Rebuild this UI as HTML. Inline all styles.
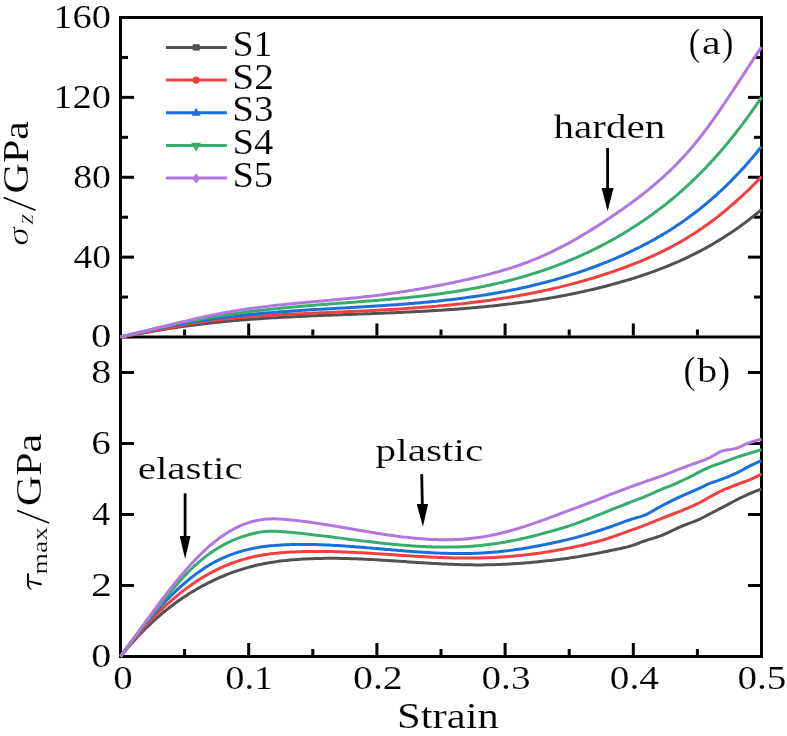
<!DOCTYPE html>
<html><head><meta charset="utf-8"><style>
html,body{margin:0;padding:0;background:#fff;width:787px;height:736px;overflow:hidden}
svg{display:block;will-change:transform}
text{font-family:"Liberation Serif", serif}
</style></head><body>
<svg width="787" height="736" viewBox="0 0 787 736">
<rect width="787" height="736" fill="#fff"/>
<g>
<rect x="119.00" y="16.00" width="644.00" height="3.00" fill="#000"/>
<rect x="119.00" y="335.50" width="644.00" height="3.00" fill="#000"/>
<rect x="119.00" y="655.00" width="644.00" height="3.00" fill="#000"/>
<rect x="119.00" y="16.00" width="3.00" height="642.00" fill="#000"/>
<rect x="760.00" y="16.00" width="3.00" height="642.00" fill="#000"/>
<rect x="122.00" y="295.56" width="6.00" height="3.00" fill="#000"/>
<rect x="754.00" y="295.56" width="6.00" height="3.00" fill="#000"/>
<rect x="122.00" y="255.62" width="12.00" height="3.00" fill="#000"/>
<rect x="748.00" y="255.62" width="12.00" height="3.00" fill="#000"/>
<rect x="122.00" y="215.69" width="6.00" height="3.00" fill="#000"/>
<rect x="754.00" y="215.69" width="6.00" height="3.00" fill="#000"/>
<rect x="122.00" y="175.75" width="12.00" height="3.00" fill="#000"/>
<rect x="748.00" y="175.75" width="12.00" height="3.00" fill="#000"/>
<rect x="122.00" y="135.81" width="6.00" height="3.00" fill="#000"/>
<rect x="754.00" y="135.81" width="6.00" height="3.00" fill="#000"/>
<rect x="122.00" y="95.88" width="12.00" height="3.00" fill="#000"/>
<rect x="748.00" y="95.88" width="12.00" height="3.00" fill="#000"/>
<rect x="122.00" y="55.94" width="6.00" height="3.00" fill="#000"/>
<rect x="754.00" y="55.94" width="6.00" height="3.00" fill="#000"/>
<rect x="122.00" y="584.00" width="12.00" height="3.00" fill="#000"/>
<rect x="748.00" y="584.00" width="12.00" height="3.00" fill="#000"/>
<rect x="122.00" y="513.00" width="12.00" height="3.00" fill="#000"/>
<rect x="748.00" y="513.00" width="12.00" height="3.00" fill="#000"/>
<rect x="122.00" y="442.00" width="12.00" height="3.00" fill="#000"/>
<rect x="748.00" y="442.00" width="12.00" height="3.00" fill="#000"/>
<rect x="122.00" y="371.00" width="12.00" height="3.00" fill="#000"/>
<rect x="748.00" y="371.00" width="12.00" height="3.00" fill="#000"/>
<rect x="183.10" y="329.50" width="3.00" height="6.00" fill="#000"/>
<rect x="183.10" y="649.00" width="3.00" height="6.00" fill="#000"/>
<rect x="247.20" y="323.50" width="3.00" height="12.00" fill="#000"/>
<rect x="247.20" y="643.00" width="3.00" height="12.00" fill="#000"/>
<rect x="311.30" y="329.50" width="3.00" height="6.00" fill="#000"/>
<rect x="311.30" y="649.00" width="3.00" height="6.00" fill="#000"/>
<rect x="375.40" y="323.50" width="3.00" height="12.00" fill="#000"/>
<rect x="375.40" y="643.00" width="3.00" height="12.00" fill="#000"/>
<rect x="439.50" y="329.50" width="3.00" height="6.00" fill="#000"/>
<rect x="439.50" y="649.00" width="3.00" height="6.00" fill="#000"/>
<rect x="503.60" y="323.50" width="3.00" height="12.00" fill="#000"/>
<rect x="503.60" y="643.00" width="3.00" height="12.00" fill="#000"/>
<rect x="567.70" y="329.50" width="3.00" height="6.00" fill="#000"/>
<rect x="567.70" y="649.00" width="3.00" height="6.00" fill="#000"/>
<rect x="631.80" y="323.50" width="3.00" height="12.00" fill="#000"/>
<rect x="631.80" y="643.00" width="3.00" height="12.00" fill="#000"/>
<rect x="695.90" y="329.50" width="3.00" height="6.00" fill="#000"/>
<rect x="695.90" y="649.00" width="3.00" height="6.00" fill="#000"/>
</g>
<g fill="none" stroke-width="3" stroke-linejoin="round" stroke-linecap="butt">
<path d="M120.50,337.00 L122.50,336.62 L124.50,336.25 L126.50,335.87 L128.50,335.50 L130.50,335.13 L132.50,334.76 L134.50,334.40 L136.50,334.03 L138.50,333.67 L140.50,333.32 L142.50,332.96 L144.50,332.61 L146.50,332.26 L148.50,331.92 L150.50,331.57 L152.50,331.23 L154.50,330.90 L156.50,330.56 L158.50,330.23 L160.50,329.91 L162.50,329.58 L164.50,329.26 L166.50,328.95 L168.50,328.63 L170.50,328.32 L172.50,328.02 L174.50,327.72 L176.50,327.42 L178.50,327.13 L180.50,326.84 L182.50,326.55 L184.50,326.27 L186.50,325.99 L188.50,325.72 L190.50,325.45 L192.50,325.18 L194.50,324.92 L196.50,324.67 L198.50,324.41 L200.50,324.17 L202.50,323.92 L204.50,323.69 L206.50,323.45 L208.50,323.23 L210.50,323.00 L212.50,322.78 L214.50,322.57 L216.50,322.35 L218.50,322.15 L220.50,321.94 L222.50,321.74 L224.50,321.55 L226.50,321.36 L228.50,321.17 L230.50,320.99 L232.50,320.80 L234.50,320.63 L236.50,320.45 L238.50,320.29 L240.50,320.12 L242.50,319.96 L244.50,319.80 L246.50,319.64 L248.50,319.49 L250.50,319.34 L252.50,319.19 L254.50,319.05 L256.50,318.90 L258.50,318.77 L260.50,318.63 L262.50,318.50 L264.50,318.37 L266.50,318.24 L268.50,318.11 L270.50,317.99 L272.50,317.87 L274.50,317.75 L276.50,317.64 L278.50,317.52 L280.50,317.41 L282.50,317.30 L284.50,317.19 L286.50,317.09 L288.50,316.99 L290.50,316.88 L292.50,316.78 L294.50,316.69 L296.50,316.59 L298.50,316.49 L300.50,316.40 L302.50,316.31 L304.50,316.22 L306.50,316.13 L308.50,316.04 L310.50,315.95 L312.50,315.87 L314.50,315.78 L316.50,315.70 L318.50,315.62 L320.50,315.53 L322.50,315.45 L324.50,315.37 L326.50,315.29 L328.50,315.21 L330.50,315.14 L332.50,315.06 L334.50,314.98 L336.50,314.91 L338.50,314.83 L340.50,314.75 L342.50,314.68 L344.50,314.60 L346.50,314.53 L348.50,314.45 L350.50,314.38 L352.50,314.30 L354.50,314.23 L356.50,314.16 L358.50,314.08 L360.50,314.01 L362.50,313.93 L364.50,313.86 L366.50,313.78 L368.50,313.70 L370.50,313.63 L372.50,313.55 L374.50,313.47 L376.50,313.39 L378.50,313.32 L380.50,313.24 L382.50,313.16 L384.50,313.07 L386.50,312.99 L388.50,312.91 L390.50,312.83 L392.50,312.74 L394.50,312.65 L396.50,312.57 L398.50,312.48 L400.50,312.39 L402.50,312.30 L404.50,312.20 L406.50,312.11 L408.50,312.02 L410.50,311.92 L412.50,311.82 L414.50,311.72 L416.50,311.62 L418.50,311.51 L420.50,311.41 L422.50,311.30 L424.50,311.19 L426.50,311.08 L428.50,310.97 L430.50,310.85 L432.50,310.73 L434.50,310.61 L436.50,310.49 L438.50,310.37 L440.50,310.24 L442.50,310.11 L444.50,309.98 L446.50,309.84 L448.50,309.71 L450.50,309.57 L452.50,309.42 L454.50,309.28 L456.50,309.13 L458.50,308.98 L460.50,308.83 L462.50,308.67 L464.50,308.51 L466.50,308.35 L468.50,308.18 L470.50,308.01 L472.50,307.84 L474.50,307.66 L476.50,307.48 L478.50,307.30 L480.50,307.11 L482.50,306.92 L484.50,306.73 L486.50,306.53 L488.50,306.33 L490.50,306.13 L492.50,305.92 L494.50,305.71 L496.50,305.49 L498.50,305.27 L500.50,305.05 L502.50,304.82 L504.50,304.59 L506.50,304.35 L508.50,304.11 L510.50,303.87 L512.50,303.62 L514.50,303.36 L516.50,303.10 L518.50,302.84 L520.50,302.57 L522.50,302.30 L524.50,302.03 L526.50,301.74 L528.50,301.46 L530.50,301.17 L532.50,300.87 L534.50,300.57 L536.50,300.26 L538.50,299.95 L540.50,299.64 L542.50,299.31 L544.50,298.99 L546.50,298.66 L548.50,298.32 L550.50,297.98 L552.50,297.63 L554.50,297.27 L556.50,296.91 L558.50,296.55 L560.50,296.18 L562.50,295.80 L564.50,295.42 L566.50,295.03 L568.50,294.64 L570.50,294.24 L572.50,293.83 L574.50,293.42 L576.50,293.00 L578.50,292.58 L580.50,292.15 L582.50,291.71 L584.50,291.27 L586.50,290.82 L588.50,290.36 L590.50,289.90 L592.50,289.43 L594.50,288.95 L596.50,288.47 L598.50,287.98 L600.50,287.49 L602.50,286.98 L604.50,286.47 L606.50,285.96 L608.50,285.43 L610.50,284.90 L612.50,284.36 L614.50,283.82 L616.50,283.27 L618.50,282.71 L620.50,282.14 L622.50,281.56 L624.50,280.98 L626.50,280.39 L628.50,279.79 L630.50,279.19 L632.50,278.57 L634.50,277.95 L636.50,277.31 L638.50,276.67 L640.50,276.02 L642.50,275.36 L644.50,274.69 L646.50,274.00 L648.50,273.31 L650.50,272.61 L652.50,271.89 L654.50,271.17 L656.50,270.43 L658.50,269.68 L660.50,268.92 L662.50,268.15 L664.50,267.36 L666.50,266.57 L668.50,265.76 L670.50,264.93 L672.50,264.09 L674.50,263.24 L676.50,262.38 L678.50,261.50 L680.50,260.61 L682.50,259.70 L684.50,258.78 L686.50,257.84 L688.50,256.89 L690.50,255.92 L692.50,254.94 L694.50,253.94 L696.50,252.93 L698.50,251.89 L700.50,250.85 L702.50,249.78 L704.50,248.70 L706.50,247.60 L708.50,246.48 L710.50,245.35 L712.50,244.19 L714.50,243.02 L716.50,241.83 L718.50,240.62 L720.50,239.40 L722.50,238.15 L724.50,236.88 L726.50,235.60 L728.50,234.29 L730.50,232.97 L732.50,231.62 L734.50,230.26 L736.50,228.87 L738.50,227.46 L740.50,226.03 L742.50,224.58 L744.50,223.10 L746.50,221.61 L748.50,220.09 L750.50,218.55 L752.50,216.99 L754.50,215.40 L756.50,213.79 L758.50,212.16 L760.50,210.51 L761.50,209.67" stroke="#515151"/>
<path d="M120.50,337.00 L122.50,336.66 L124.50,336.32 L126.50,335.97 L128.50,335.62 L130.50,335.26 L132.50,334.90 L134.50,334.53 L136.50,334.16 L138.50,333.78 L140.50,333.40 L142.50,333.02 L144.50,332.63 L146.50,332.25 L148.50,331.86 L150.50,331.46 L152.50,331.07 L154.50,330.68 L156.50,330.28 L158.50,329.89 L160.50,329.50 L162.50,329.10 L164.50,328.71 L166.50,328.32 L168.50,327.93 L170.50,327.55 L172.50,327.16 L174.50,326.78 L176.50,326.40 L178.50,326.03 L180.50,325.66 L182.50,325.29 L184.50,324.93 L186.50,324.57 L188.50,324.22 L190.50,323.87 L192.50,323.53 L194.50,323.20 L196.50,322.87 L198.50,322.56 L200.50,322.24 L202.50,321.94 L204.50,321.65 L206.50,321.36 L208.50,321.08 L210.50,320.80 L212.50,320.54 L214.50,320.28 L216.50,320.03 L218.50,319.78 L220.50,319.54 L222.50,319.31 L224.50,319.08 L226.50,318.86 L228.50,318.65 L230.50,318.44 L232.50,318.24 L234.50,318.04 L236.50,317.85 L238.50,317.66 L240.50,317.48 L242.50,317.30 L244.50,317.13 L246.50,316.97 L248.50,316.80 L250.50,316.65 L252.50,316.49 L254.50,316.34 L256.50,316.20 L258.50,316.06 L260.50,315.92 L262.50,315.79 L264.50,315.66 L266.50,315.53 L268.50,315.41 L270.50,315.29 L272.50,315.17 L274.50,315.05 L276.50,314.94 L278.50,314.83 L280.50,314.72 L282.50,314.62 L284.50,314.51 L286.50,314.41 L288.50,314.31 L290.50,314.21 L292.50,314.12 L294.50,314.02 L296.50,313.93 L298.50,313.83 L300.50,313.74 L302.50,313.65 L304.50,313.56 L306.50,313.47 L308.50,313.38 L310.50,313.29 L312.50,313.20 L314.50,313.11 L316.50,313.03 L318.50,312.94 L320.50,312.85 L322.50,312.76 L324.50,312.68 L326.50,312.59 L328.50,312.50 L330.50,312.42 L332.50,312.33 L334.50,312.24 L336.50,312.16 L338.50,312.07 L340.50,311.98 L342.50,311.89 L344.50,311.80 L346.50,311.71 L348.50,311.62 L350.50,311.53 L352.50,311.44 L354.50,311.35 L356.50,311.26 L358.50,311.16 L360.50,311.07 L362.50,310.97 L364.50,310.88 L366.50,310.78 L368.50,310.68 L370.50,310.58 L372.50,310.48 L374.50,310.38 L376.50,310.27 L378.50,310.17 L380.50,310.06 L382.50,309.95 L384.50,309.84 L386.50,309.73 L388.50,309.62 L390.50,309.50 L392.50,309.39 L394.50,309.27 L396.50,309.15 L398.50,309.02 L400.50,308.90 L402.50,308.77 L404.50,308.64 L406.50,308.51 L408.50,308.37 L410.50,308.24 L412.50,308.10 L414.50,307.96 L416.50,307.81 L418.50,307.67 L420.50,307.52 L422.50,307.36 L424.50,307.21 L426.50,307.05 L428.50,306.89 L430.50,306.73 L432.50,306.56 L434.50,306.39 L436.50,306.22 L438.50,306.04 L440.50,305.86 L442.50,305.68 L444.50,305.49 L446.50,305.30 L448.50,305.11 L450.50,304.91 L452.50,304.71 L454.50,304.51 L456.50,304.30 L458.50,304.09 L460.50,303.87 L462.50,303.65 L464.50,303.43 L466.50,303.20 L468.50,302.97 L470.50,302.74 L472.50,302.50 L474.50,302.25 L476.50,302.00 L478.50,301.75 L480.50,301.49 L482.50,301.23 L484.50,300.97 L486.50,300.70 L488.50,300.42 L490.50,300.14 L492.50,299.85 L494.50,299.56 L496.50,299.27 L498.50,298.97 L500.50,298.66 L502.50,298.35 L504.50,298.04 L506.50,297.72 L508.50,297.39 L510.50,297.06 L512.50,296.73 L514.50,296.38 L516.50,296.04 L518.50,295.68 L520.50,295.33 L522.50,294.96 L524.50,294.59 L526.50,294.22 L528.50,293.84 L530.50,293.45 L532.50,293.05 L534.50,292.66 L536.50,292.25 L538.50,291.84 L540.50,291.42 L542.50,291.00 L544.50,290.57 L546.50,290.13 L548.50,289.69 L550.50,289.24 L552.50,288.78 L554.50,288.32 L556.50,287.85 L558.50,287.37 L560.50,286.89 L562.50,286.40 L564.50,285.90 L566.50,285.40 L568.50,284.89 L570.50,284.37 L572.50,283.84 L574.50,283.31 L576.50,282.77 L578.50,282.22 L580.50,281.67 L582.50,281.11 L584.50,280.54 L586.50,279.96 L588.50,279.38 L590.50,278.79 L592.50,278.19 L594.50,277.58 L596.50,276.96 L598.50,276.34 L600.50,275.71 L602.50,275.07 L604.50,274.42 L606.50,273.77 L608.50,273.10 L610.50,272.43 L612.50,271.75 L614.50,271.06 L616.50,270.37 L618.50,269.66 L620.50,268.95 L622.50,268.22 L624.50,267.49 L626.50,266.75 L628.50,266.00 L630.50,265.24 L632.50,264.47 L634.50,263.68 L636.50,262.89 L638.50,262.08 L640.50,261.27 L642.50,260.44 L644.50,259.59 L646.50,258.74 L648.50,257.87 L650.50,256.98 L652.50,256.09 L654.50,255.17 L656.50,254.25 L658.50,253.31 L660.50,252.35 L662.50,251.37 L664.50,250.38 L666.50,249.37 L668.50,248.35 L670.50,247.31 L672.50,246.25 L674.50,245.17 L676.50,244.07 L678.50,242.95 L680.50,241.82 L682.50,240.66 L684.50,239.49 L686.50,238.29 L688.50,237.07 L690.50,235.84 L692.50,234.58 L694.50,233.29 L696.50,231.99 L698.50,230.66 L700.50,229.31 L702.50,227.94 L704.50,226.54 L706.50,225.12 L708.50,223.68 L710.50,222.21 L712.50,220.72 L714.50,219.20 L716.50,217.66 L718.50,216.10 L720.50,214.52 L722.50,212.91 L724.50,211.27 L726.50,209.62 L728.50,207.94 L730.50,206.23 L732.50,204.50 L734.50,202.75 L736.50,200.97 L738.50,199.17 L740.50,197.35 L742.50,195.50 L744.50,193.63 L746.50,191.73 L748.50,189.81 L750.50,187.86 L752.50,185.89 L754.50,183.90 L756.50,181.88 L758.50,179.84 L760.50,177.77 L761.50,176.73" stroke="#F14040"/>
<path d="M120.50,337.00 L122.50,336.53 L124.50,336.06 L126.50,335.59 L128.50,335.13 L130.50,334.67 L132.50,334.21 L134.50,333.75 L136.50,333.29 L138.50,332.84 L140.50,332.39 L142.50,331.94 L144.50,331.49 L146.50,331.05 L148.50,330.61 L150.50,330.18 L152.50,329.75 L154.50,329.32 L156.50,328.89 L158.50,328.47 L160.50,328.05 L162.50,327.64 L164.50,327.23 L166.50,326.82 L168.50,326.42 L170.50,326.03 L172.50,325.63 L174.50,325.25 L176.50,324.86 L178.50,324.48 L180.50,324.11 L182.50,323.74 L184.50,323.38 L186.50,323.02 L188.50,322.66 L190.50,322.32 L192.50,321.97 L194.50,321.64 L196.50,321.31 L198.50,320.98 L200.50,320.66 L202.50,320.35 L204.50,320.04 L206.50,319.74 L208.50,319.44 L210.50,319.15 L212.50,318.87 L214.50,318.59 L216.50,318.31 L218.50,318.05 L220.50,317.78 L222.50,317.52 L224.50,317.27 L226.50,317.02 L228.50,316.78 L230.50,316.54 L232.50,316.31 L234.50,316.08 L236.50,315.85 L238.50,315.63 L240.50,315.41 L242.50,315.20 L244.50,314.99 L246.50,314.79 L248.50,314.59 L250.50,314.39 L252.50,314.20 L254.50,314.01 L256.50,313.83 L258.50,313.65 L260.50,313.47 L262.50,313.29 L264.50,313.12 L266.50,312.95 L268.50,312.79 L270.50,312.62 L272.50,312.46 L274.50,312.31 L276.50,312.15 L278.50,312.00 L280.50,311.85 L282.50,311.70 L284.50,311.56 L286.50,311.42 L288.50,311.28 L290.50,311.14 L292.50,311.00 L294.50,310.87 L296.50,310.74 L298.50,310.61 L300.50,310.48 L302.50,310.35 L304.50,310.22 L306.50,310.10 L308.50,309.98 L310.50,309.85 L312.50,309.73 L314.50,309.61 L316.50,309.49 L318.50,309.37 L320.50,309.26 L322.50,309.14 L324.50,309.02 L326.50,308.91 L328.50,308.79 L330.50,308.68 L332.50,308.57 L334.50,308.45 L336.50,308.34 L338.50,308.22 L340.50,308.11 L342.50,308.00 L344.50,307.88 L346.50,307.77 L348.50,307.66 L350.50,307.54 L352.50,307.43 L354.50,307.31 L356.50,307.20 L358.50,307.08 L360.50,306.96 L362.50,306.84 L364.50,306.72 L366.50,306.60 L368.50,306.48 L370.50,306.36 L372.50,306.24 L374.50,306.11 L376.50,305.99 L378.50,305.86 L380.50,305.73 L382.50,305.60 L384.50,305.47 L386.50,305.33 L388.50,305.20 L390.50,305.06 L392.50,304.92 L394.50,304.78 L396.50,304.63 L398.50,304.49 L400.50,304.34 L402.50,304.19 L404.50,304.03 L406.50,303.88 L408.50,303.72 L410.50,303.56 L412.50,303.39 L414.50,303.23 L416.50,303.06 L418.50,302.89 L420.50,302.71 L422.50,302.53 L424.50,302.35 L426.50,302.16 L428.50,301.97 L430.50,301.78 L432.50,301.59 L434.50,301.39 L436.50,301.18 L438.50,300.98 L440.50,300.76 L442.50,300.55 L444.50,300.33 L446.50,300.11 L448.50,299.88 L450.50,299.65 L452.50,299.41 L454.50,299.17 L456.50,298.93 L458.50,298.68 L460.50,298.43 L462.50,298.17 L464.50,297.90 L466.50,297.63 L468.50,297.36 L470.50,297.08 L472.50,296.80 L474.50,296.51 L476.50,296.22 L478.50,295.92 L480.50,295.61 L482.50,295.30 L484.50,294.99 L486.50,294.67 L488.50,294.34 L490.50,294.01 L492.50,293.67 L494.50,293.32 L496.50,292.97 L498.50,292.62 L500.50,292.25 L502.50,291.88 L504.50,291.51 L506.50,291.13 L508.50,290.74 L510.50,290.34 L512.50,289.94 L514.50,289.53 L516.50,289.11 L518.50,288.69 L520.50,288.26 L522.50,287.83 L524.50,287.38 L526.50,286.93 L528.50,286.47 L530.50,286.01 L532.50,285.54 L534.50,285.05 L536.50,284.57 L538.50,284.07 L540.50,283.57 L542.50,283.06 L544.50,282.54 L546.50,282.01 L548.50,281.47 L550.50,280.93 L552.50,280.38 L554.50,279.82 L556.50,279.25 L558.50,278.67 L560.50,278.09 L562.50,277.49 L564.50,276.89 L566.50,276.28 L568.50,275.66 L570.50,275.03 L572.50,274.39 L574.50,273.74 L576.50,273.09 L578.50,272.42 L580.50,271.75 L582.50,271.06 L584.50,270.37 L586.50,269.66 L588.50,268.95 L590.50,268.23 L592.50,267.49 L594.50,266.75 L596.50,266.00 L598.50,265.24 L600.50,264.46 L602.50,263.68 L604.50,262.89 L606.50,262.08 L608.50,261.27 L610.50,260.44 L612.50,259.61 L614.50,258.76 L616.50,257.91 L618.50,257.04 L620.50,256.16 L622.50,255.27 L624.50,254.37 L626.50,253.46 L628.50,252.54 L630.50,251.60 L632.50,250.65 L634.50,249.69 L636.50,248.71 L638.50,247.72 L640.50,246.72 L642.50,245.70 L644.50,244.67 L646.50,243.62 L648.50,242.56 L650.50,241.48 L652.50,240.38 L654.50,239.27 L656.50,238.14 L658.50,236.99 L660.50,235.83 L662.50,234.65 L664.50,233.45 L666.50,232.23 L668.50,231.00 L670.50,229.74 L672.50,228.46 L674.50,227.17 L676.50,225.85 L678.50,224.52 L680.50,223.16 L682.50,221.78 L684.50,220.38 L686.50,218.96 L688.50,217.52 L690.50,216.05 L692.50,214.56 L694.50,213.05 L696.50,211.51 L698.50,209.95 L700.50,208.36 L702.50,206.75 L704.50,205.12 L706.50,203.46 L708.50,201.77 L710.50,200.06 L712.50,198.33 L714.50,196.56 L716.50,194.77 L718.50,192.95 L720.50,191.10 L722.50,189.23 L724.50,187.33 L726.50,185.39 L728.50,183.43 L730.50,181.44 L732.50,179.42 L734.50,177.37 L736.50,175.29 L738.50,173.18 L740.50,171.04 L742.50,168.87 L744.50,166.66 L746.50,164.42 L748.50,162.15 L750.50,159.85 L752.50,157.51 L754.50,155.14 L756.50,152.74 L758.50,150.30 L760.50,147.83 L761.50,146.58" stroke="#1A6FDF"/>
<path d="M120.50,337.00 L122.50,336.50 L124.50,335.99 L126.50,335.49 L128.50,334.99 L130.50,334.50 L132.50,334.00 L134.50,333.51 L136.50,333.02 L138.50,332.54 L140.50,332.05 L142.50,331.57 L144.50,331.09 L146.50,330.62 L148.50,330.14 L150.50,329.68 L152.50,329.21 L154.50,328.75 L156.50,328.29 L158.50,327.83 L160.50,327.38 L162.50,326.93 L164.50,326.48 L166.50,326.04 L168.50,325.60 L170.50,325.17 L172.50,324.74 L174.50,324.31 L176.50,323.89 L178.50,323.47 L180.50,323.06 L182.50,322.65 L184.50,322.25 L186.50,321.85 L188.50,321.45 L190.50,321.06 L192.50,320.68 L194.50,320.29 L196.50,319.92 L198.50,319.55 L200.50,319.18 L202.50,318.82 L204.50,318.47 L206.50,318.12 L208.50,317.77 L210.50,317.43 L212.50,317.10 L214.50,316.77 L216.50,316.44 L218.50,316.12 L220.50,315.80 L222.50,315.49 L224.50,315.19 L226.50,314.88 L228.50,314.59 L230.50,314.29 L232.50,314.00 L234.50,313.72 L236.50,313.44 L238.50,313.16 L240.50,312.89 L242.50,312.62 L244.50,312.36 L246.50,312.10 L248.50,311.84 L250.50,311.59 L252.50,311.34 L254.50,311.09 L256.50,310.85 L258.50,310.61 L260.50,310.38 L262.50,310.15 L264.50,309.92 L266.50,309.70 L268.50,309.48 L270.50,309.26 L272.50,309.04 L274.50,308.83 L276.50,308.62 L278.50,308.42 L280.50,308.22 L282.50,308.02 L284.50,307.82 L286.50,307.63 L288.50,307.44 L290.50,307.25 L292.50,307.06 L294.50,306.88 L296.50,306.70 L298.50,306.52 L300.50,306.35 L302.50,306.17 L304.50,306.00 L306.50,305.83 L308.50,305.67 L310.50,305.50 L312.50,305.34 L314.50,305.17 L316.50,305.01 L318.50,304.86 L320.50,304.70 L322.50,304.54 L324.50,304.39 L326.50,304.23 L328.50,304.08 L330.50,303.93 L332.50,303.78 L334.50,303.63 L336.50,303.48 L338.50,303.33 L340.50,303.18 L342.50,303.03 L344.50,302.88 L346.50,302.73 L348.50,302.58 L350.50,302.43 L352.50,302.28 L354.50,302.13 L356.50,301.98 L358.50,301.83 L360.50,301.67 L362.50,301.52 L364.50,301.37 L366.50,301.21 L368.50,301.05 L370.50,300.89 L372.50,300.74 L374.50,300.57 L376.50,300.41 L378.50,300.25 L380.50,300.08 L382.50,299.91 L384.50,299.74 L386.50,299.57 L388.50,299.40 L390.50,299.22 L392.50,299.04 L394.50,298.86 L396.50,298.67 L398.50,298.48 L400.50,298.29 L402.50,298.10 L404.50,297.90 L406.50,297.70 L408.50,297.50 L410.50,297.29 L412.50,297.08 L414.50,296.87 L416.50,296.65 L418.50,296.43 L420.50,296.20 L422.50,295.97 L424.50,295.74 L426.50,295.50 L428.50,295.26 L430.50,295.01 L432.50,294.76 L434.50,294.50 L436.50,294.24 L438.50,293.97 L440.50,293.70 L442.50,293.43 L444.50,293.14 L446.50,292.86 L448.50,292.56 L450.50,292.26 L452.50,291.96 L454.50,291.65 L456.50,291.33 L458.50,291.01 L460.50,290.69 L462.50,290.35 L464.50,290.01 L466.50,289.66 L468.50,289.31 L470.50,288.95 L472.50,288.58 L474.50,288.21 L476.50,287.83 L478.50,287.44 L480.50,287.05 L482.50,286.64 L484.50,286.23 L486.50,285.82 L488.50,285.39 L490.50,284.96 L492.50,284.52 L494.50,284.07 L496.50,283.61 L498.50,283.15 L500.50,282.68 L502.50,282.19 L504.50,281.70 L506.50,281.21 L508.50,280.70 L510.50,280.18 L512.50,279.66 L514.50,279.12 L516.50,278.58 L518.50,278.03 L520.50,277.47 L522.50,276.90 L524.50,276.32 L526.50,275.73 L528.50,275.13 L530.50,274.52 L532.50,273.90 L534.50,273.27 L536.50,272.63 L538.50,271.98 L540.50,271.32 L542.50,270.65 L544.50,269.96 L546.50,269.27 L548.50,268.57 L550.50,267.85 L552.50,267.13 L554.50,266.39 L556.50,265.64 L558.50,264.88 L560.50,264.11 L562.50,263.33 L564.50,262.54 L566.50,261.73 L568.50,260.91 L570.50,260.09 L572.50,259.24 L574.50,258.39 L576.50,257.52 L578.50,256.64 L580.50,255.75 L582.50,254.85 L584.50,253.93 L586.50,253.00 L588.50,252.06 L590.50,251.11 L592.50,250.14 L594.50,249.16 L596.50,248.16 L598.50,247.15 L600.50,246.13 L602.50,245.09 L604.50,244.04 L606.50,242.98 L608.50,241.90 L610.50,240.81 L612.50,239.70 L614.50,238.58 L616.50,237.45 L618.50,236.30 L620.50,235.13 L622.50,233.95 L624.50,232.76 L626.50,231.55 L628.50,230.32 L630.50,229.08 L632.50,227.82 L634.50,226.55 L636.50,225.26 L638.50,223.95 L640.50,222.62 L642.50,221.27 L644.50,219.91 L646.50,218.53 L648.50,217.13 L650.50,215.71 L652.50,214.27 L654.50,212.81 L656.50,211.33 L658.50,209.83 L660.50,208.31 L662.50,206.77 L664.50,205.20 L666.50,203.62 L668.50,202.01 L670.50,200.38 L672.50,198.73 L674.50,197.05 L676.50,195.36 L678.50,193.63 L680.50,191.89 L682.50,190.12 L684.50,188.32 L686.50,186.50 L688.50,184.66 L690.50,182.79 L692.50,180.89 L694.50,178.97 L696.50,177.02 L698.50,175.04 L700.50,173.04 L702.50,171.01 L704.50,168.95 L706.50,166.87 L708.50,164.75 L710.50,162.61 L712.50,160.44 L714.50,158.24 L716.50,156.01 L718.50,153.75 L720.50,151.46 L722.50,149.14 L724.50,146.78 L726.50,144.40 L728.50,141.99 L730.50,139.54 L732.50,137.06 L734.50,134.55 L736.50,132.01 L738.50,129.43 L740.50,126.82 L742.50,124.18 L744.50,121.50 L746.50,118.79 L748.50,116.04 L750.50,113.26 L752.50,110.44 L754.50,107.59 L756.50,104.70 L758.50,101.78 L760.50,98.82 L761.50,97.32" stroke="#37AD6B"/>
<path d="M120.50,337.00 L122.50,336.54 L124.50,336.07 L126.50,335.60 L128.50,335.13 L130.50,334.65 L132.50,334.17 L134.50,333.69 L136.50,333.20 L138.50,332.71 L140.50,332.22 L142.50,331.73 L144.50,331.24 L146.50,330.74 L148.50,330.24 L150.50,329.75 L152.50,329.25 L154.50,328.75 L156.50,328.25 L158.50,327.75 L160.50,327.25 L162.50,326.75 L164.50,326.25 L166.50,325.75 L168.50,325.25 L170.50,324.76 L172.50,324.26 L174.50,323.77 L176.50,323.28 L178.50,322.79 L180.50,322.31 L182.50,321.82 L184.50,321.34 L186.50,320.87 L188.50,320.39 L190.50,319.92 L192.50,319.46 L194.50,318.99 L196.50,318.54 L198.50,318.08 L200.50,317.63 L202.50,317.19 L204.50,316.75 L206.50,316.32 L208.50,315.89 L210.50,315.47 L212.50,315.06 L214.50,314.65 L216.50,314.25 L218.50,313.85 L220.50,313.47 L222.50,313.09 L224.50,312.71 L226.50,312.35 L228.50,311.99 L230.50,311.64 L232.50,311.30 L234.50,310.97 L236.50,310.64 L238.50,310.32 L240.50,310.00 L242.50,309.70 L244.50,309.40 L246.50,309.10 L248.50,308.81 L250.50,308.53 L252.50,308.26 L254.50,307.98 L256.50,307.72 L258.50,307.46 L260.50,307.20 L262.50,306.95 L264.50,306.71 L266.50,306.47 L268.50,306.23 L270.50,306.00 L272.50,305.77 L274.50,305.55 L276.50,305.33 L278.50,305.11 L280.50,304.90 L282.50,304.69 L284.50,304.48 L286.50,304.28 L288.50,304.07 L290.50,303.88 L292.50,303.68 L294.50,303.49 L296.50,303.29 L298.50,303.10 L300.50,302.92 L302.50,302.73 L304.50,302.54 L306.50,302.36 L308.50,302.18 L310.50,302.00 L312.50,301.81 L314.50,301.63 L316.50,301.45 L318.50,301.27 L320.50,301.09 L322.50,300.91 L324.50,300.73 L326.50,300.55 L328.50,300.37 L330.50,300.19 L332.50,300.01 L334.50,299.83 L336.50,299.64 L338.50,299.45 L340.50,299.27 L342.50,299.08 L344.50,298.88 L346.50,298.69 L348.50,298.50 L350.50,298.30 L352.50,298.10 L354.50,297.89 L356.50,297.69 L358.50,297.48 L360.50,297.26 L362.50,297.05 L364.50,296.83 L366.50,296.60 L368.50,296.38 L370.50,296.14 L372.50,295.91 L374.50,295.67 L376.50,295.42 L378.50,295.17 L380.50,294.92 L382.50,294.66 L384.50,294.39 L386.50,294.12 L388.50,293.85 L390.50,293.57 L392.50,293.29 L394.50,293.00 L396.50,292.70 L398.50,292.40 L400.50,292.10 L402.50,291.79 L404.50,291.48 L406.50,291.16 L408.50,290.84 L410.50,290.51 L412.50,290.18 L414.50,289.85 L416.50,289.51 L418.50,289.16 L420.50,288.81 L422.50,288.46 L424.50,288.10 L426.50,287.74 L428.50,287.37 L430.50,287.00 L432.50,286.63 L434.50,286.25 L436.50,285.87 L438.50,285.48 L440.50,285.09 L442.50,284.69 L444.50,284.29 L446.50,283.89 L448.50,283.48 L450.50,283.07 L452.50,282.66 L454.50,282.24 L456.50,281.81 L458.50,281.39 L460.50,280.96 L462.50,280.52 L464.50,280.08 L466.50,279.64 L468.50,279.19 L470.50,278.74 L472.50,278.28 L474.50,277.82 L476.50,277.35 L478.50,276.87 L480.50,276.39 L482.50,275.90 L484.50,275.40 L486.50,274.89 L488.50,274.37 L490.50,273.85 L492.50,273.32 L494.50,272.77 L496.50,272.22 L498.50,271.66 L500.50,271.09 L502.50,270.50 L504.50,269.91 L506.50,269.30 L508.50,268.69 L510.50,268.06 L512.50,267.41 L514.50,266.76 L516.50,266.09 L518.50,265.41 L520.50,264.71 L522.50,264.00 L524.50,263.28 L526.50,262.54 L528.50,261.78 L530.50,261.01 L532.50,260.22 L534.50,259.42 L536.50,258.60 L538.50,257.76 L540.50,256.91 L542.50,256.04 L544.50,255.15 L546.50,254.24 L548.50,253.32 L550.50,252.38 L552.50,251.42 L554.50,250.45 L556.50,249.46 L558.50,248.45 L560.50,247.43 L562.50,246.40 L564.50,245.35 L566.50,244.28 L568.50,243.20 L570.50,242.10 L572.50,240.99 L574.50,239.87 L576.50,238.73 L578.50,237.58 L580.50,236.41 L582.50,235.23 L584.50,234.04 L586.50,232.83 L588.50,231.62 L590.50,230.39 L592.50,229.14 L594.50,227.89 L596.50,226.62 L598.50,225.34 L600.50,224.05 L602.50,222.75 L604.50,221.44 L606.50,220.12 L608.50,218.78 L610.50,217.44 L612.50,216.09 L614.50,214.72 L616.50,213.35 L618.50,211.97 L620.50,210.57 L622.50,209.17 L624.50,207.76 L626.50,206.34 L628.50,204.90 L630.50,203.45 L632.50,201.99 L634.50,200.51 L636.50,199.02 L638.50,197.50 L640.50,195.97 L642.50,194.42 L644.50,192.85 L646.50,191.26 L648.50,189.65 L650.50,188.01 L652.50,186.35 L654.50,184.67 L656.50,182.95 L658.50,181.22 L660.50,179.45 L662.50,177.65 L664.50,175.83 L666.50,173.97 L668.50,172.08 L670.50,170.16 L672.50,168.20 L674.50,166.21 L676.50,164.19 L678.50,162.12 L680.50,160.02 L682.50,157.88 L684.50,155.70 L686.50,153.48 L688.50,151.22 L690.50,148.91 L692.50,146.56 L694.50,144.17 L696.50,141.73 L698.50,139.24 L700.50,136.71 L702.50,134.13 L704.50,131.50 L706.50,128.83 L708.50,126.12 L710.50,123.37 L712.50,120.58 L714.50,117.76 L716.50,114.91 L718.50,112.03 L720.50,109.12 L722.50,106.18 L724.50,103.22 L726.50,100.25 L728.50,97.25 L730.50,94.24 L732.50,91.21 L734.50,88.17 L736.50,85.13 L738.50,82.07 L740.50,79.01 L742.50,75.95 L744.50,72.89 L746.50,69.84 L748.50,66.78 L750.50,63.73 L752.50,60.70 L754.50,57.67 L756.50,54.65 L758.50,51.65 L760.50,48.67 L761.50,47.18" stroke="#B177DE"/>
<path d="M120.50,656.50 L122.50,654.03 L124.50,651.61 L126.50,649.23 L128.50,646.89 L130.50,644.60 L132.50,642.34 L134.50,640.13 L136.50,637.95 L138.50,635.82 L140.50,633.72 L142.50,631.66 L144.50,629.65 L146.50,627.67 L148.50,625.72 L150.50,623.82 L152.50,621.95 L154.50,620.12 L156.50,618.32 L158.50,616.56 L160.50,614.83 L162.50,613.14 L164.50,611.48 L166.50,609.86 L168.50,608.27 L170.50,606.71 L172.50,605.19 L174.50,603.69 L176.50,602.23 L178.50,600.80 L180.50,599.40 L182.50,598.03 L184.50,596.69 L186.50,595.38 L188.50,594.10 L190.50,592.85 L192.50,591.62 L194.50,590.43 L196.50,589.26 L198.50,588.11 L200.50,586.99 L202.50,585.90 L204.50,584.84 L206.50,583.80 L208.50,582.78 L210.50,581.79 L212.50,580.82 L214.50,579.88 L216.50,578.96 L218.50,578.06 L220.50,577.18 L222.50,576.33 L224.50,575.51 L226.50,574.70 L228.50,573.92 L230.50,573.16 L232.50,572.42 L234.50,571.71 L236.50,571.01 L238.50,570.34 L240.50,569.70 L242.50,569.07 L244.50,568.47 L246.50,567.88 L248.50,567.32 L250.50,566.78 L252.50,566.26 L254.50,565.77 L256.50,565.29 L258.50,564.83 L260.50,564.40 L262.50,563.99 L264.50,563.59 L266.50,563.22 L268.50,562.86 L270.50,562.53 L272.50,562.21 L274.50,561.91 L276.50,561.62 L278.50,561.35 L280.50,561.10 L282.50,560.86 L284.50,560.63 L286.50,560.42 L288.50,560.21 L290.50,560.03 L292.50,559.85 L294.50,559.68 L296.50,559.52 L298.50,559.38 L300.50,559.24 L302.50,559.12 L304.50,559.00 L306.50,558.90 L308.50,558.80 L310.50,558.71 L312.50,558.63 L314.50,558.57 L316.50,558.51 L318.50,558.46 L320.50,558.41 L322.50,558.38 L324.50,558.35 L326.50,558.33 L328.50,558.32 L330.50,558.32 L332.50,558.32 L334.50,558.33 L336.50,558.35 L338.50,558.37 L340.50,558.40 L342.50,558.44 L344.50,558.48 L346.50,558.53 L348.50,558.59 L350.50,558.65 L352.50,558.71 L354.50,558.78 L356.50,558.86 L358.50,558.94 L360.50,559.02 L362.50,559.11 L364.50,559.20 L366.50,559.30 L368.50,559.40 L370.50,559.50 L372.50,559.61 L374.50,559.72 L376.50,559.83 L378.50,559.95 L380.50,560.07 L382.50,560.19 L384.50,560.31 L386.50,560.44 L388.50,560.56 L390.50,560.69 L392.50,560.82 L394.50,560.95 L396.50,561.08 L398.50,561.22 L400.50,561.35 L402.50,561.48 L404.50,561.62 L406.50,561.75 L408.50,561.88 L410.50,562.02 L412.50,562.15 L414.50,562.28 L416.50,562.41 L418.50,562.54 L420.50,562.67 L422.50,562.79 L424.50,562.92 L426.50,563.04 L428.50,563.16 L430.50,563.28 L432.50,563.39 L434.50,563.51 L436.50,563.62 L438.50,563.72 L440.50,563.83 L442.50,563.93 L444.50,564.02 L446.50,564.12 L448.50,564.20 L450.50,564.29 L452.50,564.37 L454.50,564.44 L456.50,564.51 L458.50,564.58 L460.50,564.64 L462.50,564.69 L464.50,564.74 L466.50,564.78 L468.50,564.82 L470.50,564.85 L472.50,564.87 L474.50,564.89 L476.50,564.90 L478.50,564.90 L480.50,564.89 L482.50,564.88 L484.50,564.86 L486.50,564.84 L488.50,564.80 L490.50,564.76 L492.50,564.71 L494.50,564.66 L496.50,564.60 L498.50,564.53 L500.50,564.45 L502.50,564.37 L504.50,564.28 L506.50,564.18 L508.50,564.07 L510.50,563.96 L512.50,563.84 L514.50,563.72 L516.50,563.59 L518.50,563.45 L520.50,563.30 L522.50,563.15 L524.50,562.99 L526.50,562.83 L528.50,562.66 L530.50,562.48 L532.50,562.30 L534.50,562.11 L536.50,561.91 L538.50,561.71 L540.50,561.50 L542.50,561.29 L544.50,561.07 L546.50,560.85 L548.50,560.62 L550.50,560.39 L552.50,560.16 L554.50,559.92 L556.50,559.68 L558.50,559.44 L560.50,559.19 L562.50,558.94 L564.50,558.68 L566.50,558.42 L568.50,558.14 L570.50,557.85 L572.50,557.55 L574.50,557.25 L576.50,556.93 L578.50,556.61 L580.50,556.27 L582.50,555.93 L584.50,555.58 L586.50,555.22 L588.50,554.86 L590.50,554.49 L592.50,554.11 L594.50,553.74 L596.50,553.36 L598.50,552.98 L600.50,552.60 L602.50,552.22 L604.50,551.82 L606.50,551.41 L608.50,550.99 L610.50,550.57 L612.50,550.14 L614.50,549.71 L616.50,549.28 L618.50,548.86 L620.50,548.44 L622.50,548.02 L624.50,547.57 L626.50,547.11 L628.50,546.60 L630.50,546.06 L632.50,545.43 L634.50,544.74 L636.50,544.00 L638.50,543.23 L640.50,542.45 L642.50,541.69 L644.50,540.97 L646.50,540.30 L648.50,539.67 L650.50,539.06 L652.50,538.46 L654.50,537.85 L656.50,537.21 L658.50,536.54 L660.50,535.81 L662.50,535.02 L664.50,534.17 L666.50,533.27 L668.50,532.34 L670.50,531.39 L672.50,530.44 L674.50,529.49 L676.50,528.55 L678.50,527.65 L680.50,526.79 L682.50,525.97 L684.50,525.18 L686.50,524.42 L688.50,523.66 L690.50,522.90 L692.50,522.14 L694.50,521.35 L696.50,520.53 L698.50,519.68 L700.50,518.77 L702.50,517.77 L704.50,516.71 L706.50,515.63 L708.50,514.56 L710.50,513.53 L712.50,512.50 L714.50,511.48 L716.50,510.47 L718.50,509.44 L720.50,508.41 L722.50,507.37 L724.50,506.31 L726.50,505.24 L728.50,504.16 L730.50,503.09 L732.50,502.02 L734.50,500.97 L736.50,499.95 L738.50,498.95 L740.50,497.97 L742.50,497.00 L744.50,496.05 L746.50,495.12 L748.50,494.22 L750.50,493.34 L752.50,492.50 L754.50,491.68 L756.50,490.88 L758.50,490.11 L760.50,489.36 L761.50,489.00" stroke="#515151"/>
<path d="M120.50,656.50 L122.50,653.86 L124.50,651.26 L126.50,648.69 L128.50,646.16 L130.50,643.66 L132.50,641.21 L134.50,638.78 L136.50,636.40 L138.50,634.05 L140.50,631.74 L142.50,629.46 L144.50,627.22 L146.50,625.01 L148.50,622.84 L150.50,620.71 L152.50,618.61 L154.50,616.55 L156.50,614.52 L158.50,612.53 L160.50,610.58 L162.50,608.66 L164.50,606.77 L166.50,604.92 L168.50,603.11 L170.50,601.33 L172.50,599.58 L174.50,597.87 L176.50,596.19 L178.50,594.55 L180.50,592.95 L182.50,591.38 L184.50,589.84 L186.50,588.33 L188.50,586.87 L190.50,585.43 L192.50,584.03 L194.50,582.66 L196.50,581.33 L198.50,580.03 L200.50,578.77 L202.50,577.54 L204.50,576.34 L206.50,575.18 L208.50,574.05 L210.50,572.95 L212.50,571.88 L214.50,570.85 L216.50,569.86 L218.50,568.89 L220.50,567.96 L222.50,567.05 L224.50,566.18 L226.50,565.34 L228.50,564.53 L230.50,563.75 L232.50,563.00 L234.50,562.28 L236.50,561.58 L238.50,560.92 L240.50,560.28 L242.50,559.67 L244.50,559.09 L246.50,558.54 L248.50,558.01 L250.50,557.51 L252.50,557.03 L254.50,556.58 L256.50,556.16 L258.50,555.76 L260.50,555.38 L262.50,555.03 L264.50,554.70 L266.50,554.40 L268.50,554.11 L270.50,553.85 L272.50,553.60 L274.50,553.38 L276.50,553.17 L278.50,552.98 L280.50,552.80 L282.50,552.64 L284.50,552.49 L286.50,552.35 L288.50,552.23 L290.50,552.11 L292.50,552.01 L294.50,551.91 L296.50,551.82 L298.50,551.75 L300.50,551.68 L302.50,551.61 L304.50,551.56 L306.50,551.52 L308.50,551.48 L310.50,551.45 L312.50,551.43 L314.50,551.42 L316.50,551.41 L318.50,551.41 L320.50,551.42 L322.50,551.44 L324.50,551.46 L326.50,551.48 L328.50,551.52 L330.50,551.56 L332.50,551.60 L334.50,551.65 L336.50,551.71 L338.50,551.77 L340.50,551.84 L342.50,551.91 L344.50,551.99 L346.50,552.07 L348.50,552.15 L350.50,552.24 L352.50,552.33 L354.50,552.43 L356.50,552.53 L358.50,552.63 L360.50,552.74 L362.50,552.85 L364.50,552.96 L366.50,553.08 L368.50,553.20 L370.50,553.32 L372.50,553.44 L374.50,553.56 L376.50,553.69 L378.50,553.81 L380.50,553.94 L382.50,554.07 L384.50,554.20 L386.50,554.33 L388.50,554.47 L390.50,554.60 L392.50,554.73 L394.50,554.86 L396.50,555.00 L398.50,555.13 L400.50,555.26 L402.50,555.39 L404.50,555.52 L406.50,555.65 L408.50,555.78 L410.50,555.90 L412.50,556.03 L414.50,556.15 L416.50,556.27 L418.50,556.39 L420.50,556.51 L422.50,556.62 L424.50,556.73 L426.50,556.84 L428.50,556.94 L430.50,557.04 L432.50,557.14 L434.50,557.24 L436.50,557.33 L438.50,557.41 L440.50,557.50 L442.50,557.57 L444.50,557.65 L446.50,557.72 L448.50,557.78 L450.50,557.84 L452.50,557.89 L454.50,557.94 L456.50,557.98 L458.50,558.02 L460.50,558.05 L462.50,558.07 L464.50,558.09 L466.50,558.10 L468.50,558.10 L470.50,558.10 L472.50,558.09 L474.50,558.07 L476.50,558.04 L478.50,558.01 L480.50,557.97 L482.50,557.92 L484.50,557.86 L486.50,557.80 L488.50,557.72 L490.50,557.64 L492.50,557.55 L494.50,557.45 L496.50,557.35 L498.50,557.23 L500.50,557.11 L502.50,556.98 L504.50,556.84 L506.50,556.69 L508.50,556.54 L510.50,556.37 L512.50,556.20 L514.50,556.02 L516.50,555.83 L518.50,555.63 L520.50,555.43 L522.50,555.21 L524.50,554.99 L526.50,554.76 L528.50,554.52 L530.50,554.27 L532.50,554.02 L534.50,553.75 L536.50,553.48 L538.50,553.20 L540.50,552.91 L542.50,552.61 L544.50,552.30 L546.50,551.98 L548.50,551.66 L550.50,551.34 L552.50,551.01 L554.50,550.67 L556.50,550.33 L558.50,549.98 L560.50,549.63 L562.50,549.28 L564.50,548.91 L566.50,548.53 L568.50,548.15 L570.50,547.76 L572.50,547.35 L574.50,546.94 L576.50,546.51 L578.50,546.08 L580.50,545.63 L582.50,545.17 L584.50,544.71 L586.50,544.23 L588.50,543.74 L590.50,543.25 L592.50,542.75 L594.50,542.24 L596.50,541.72 L598.50,541.20 L600.50,540.66 L602.50,540.09 L604.50,539.48 L606.50,538.85 L608.50,538.19 L610.50,537.53 L612.50,536.85 L614.50,536.17 L616.50,535.49 L618.50,534.78 L620.50,534.07 L622.50,533.34 L624.50,532.61 L626.50,531.87 L628.50,531.14 L630.50,530.42 L632.50,529.71 L634.50,529.00 L636.50,528.30 L638.50,527.59 L640.50,526.87 L642.50,526.14 L644.50,525.39 L646.50,524.61 L648.50,523.80 L650.50,522.97 L652.50,522.13 L654.50,521.28 L656.50,520.44 L658.50,519.61 L660.50,518.80 L662.50,518.02 L664.50,517.25 L666.50,516.49 L668.50,515.74 L670.50,514.99 L672.50,514.24 L674.50,513.48 L676.50,512.70 L678.50,511.91 L680.50,511.09 L682.50,510.27 L684.50,509.45 L686.50,508.61 L688.50,507.76 L690.50,506.90 L692.50,506.02 L694.50,505.12 L696.50,504.19 L698.50,503.24 L700.50,502.25 L702.50,501.18 L704.50,500.05 L706.50,498.91 L708.50,497.78 L710.50,496.67 L712.50,495.55 L714.50,494.43 L716.50,493.34 L718.50,492.28 L720.50,491.28 L722.50,490.35 L724.50,489.47 L726.50,488.63 L728.50,487.82 L730.50,487.04 L732.50,486.26 L734.50,485.50 L736.50,484.73 L738.50,483.95 L740.50,483.21 L742.50,482.49 L744.50,481.77 L746.50,481.04 L748.50,480.27 L750.50,479.44 L752.50,478.56 L754.50,477.62 L756.50,476.64 L758.50,475.61 L760.50,474.55 L761.50,474.00" stroke="#F14040"/>
<path d="M120.50,656.50 L122.50,653.73 L124.50,650.99 L126.50,648.28 L128.50,645.59 L130.50,642.93 L132.50,640.30 L134.50,637.70 L136.50,635.13 L138.50,632.58 L140.50,630.07 L142.50,627.59 L144.50,625.13 L146.50,622.71 L148.50,620.32 L150.50,617.97 L152.50,615.64 L154.50,613.35 L156.50,611.09 L158.50,608.87 L160.50,606.68 L162.50,604.53 L164.50,602.41 L166.50,600.32 L168.50,598.28 L170.50,596.26 L172.50,594.29 L174.50,592.35 L176.50,590.45 L178.50,588.59 L180.50,586.77 L182.50,584.99 L184.50,583.25 L186.50,581.54 L188.50,579.88 L190.50,578.26 L192.50,576.68 L194.50,575.14 L196.50,573.64 L198.50,572.19 L200.50,570.78 L202.50,569.41 L204.50,568.09 L206.50,566.81 L208.50,565.57 L210.50,564.38 L212.50,563.24 L214.50,562.14 L216.50,561.08 L218.50,560.07 L220.50,559.10 L222.50,558.17 L224.50,557.28 L226.50,556.43 L228.50,555.62 L230.50,554.84 L232.50,554.10 L234.50,553.40 L236.50,552.73 L238.50,552.09 L240.50,551.49 L242.50,550.92 L244.50,550.38 L246.50,549.88 L248.50,549.40 L250.50,548.95 L252.50,548.53 L254.50,548.13 L256.50,547.76 L258.50,547.42 L260.50,547.10 L262.50,546.80 L264.50,546.52 L266.50,546.27 L268.50,546.04 L270.50,545.83 L272.50,545.63 L274.50,545.46 L276.50,545.30 L278.50,545.16 L280.50,545.03 L282.50,544.92 L284.50,544.82 L286.50,544.73 L288.50,544.66 L290.50,544.59 L292.50,544.54 L294.50,544.49 L296.50,544.46 L298.50,544.44 L300.50,544.42 L302.50,544.42 L304.50,544.42 L306.50,544.43 L308.50,544.45 L310.50,544.48 L312.50,544.52 L314.50,544.56 L316.50,544.61 L318.50,544.67 L320.50,544.74 L322.50,544.81 L324.50,544.89 L326.50,544.98 L328.50,545.07 L330.50,545.17 L332.50,545.27 L334.50,545.38 L336.50,545.50 L338.50,545.61 L340.50,545.74 L342.50,545.87 L344.50,546.00 L346.50,546.14 L348.50,546.28 L350.50,546.43 L352.50,546.58 L354.50,546.73 L356.50,546.88 L358.50,547.04 L360.50,547.20 L362.50,547.36 L364.50,547.53 L366.50,547.70 L368.50,547.87 L370.50,548.04 L372.50,548.21 L374.50,548.38 L376.50,548.55 L378.50,548.73 L380.50,548.90 L382.50,549.07 L384.50,549.25 L386.50,549.42 L388.50,549.60 L390.50,549.77 L392.50,549.94 L394.50,550.11 L396.50,550.28 L398.50,550.45 L400.50,550.61 L402.50,550.77 L404.50,550.93 L406.50,551.09 L408.50,551.25 L410.50,551.40 L412.50,551.55 L414.50,551.69 L416.50,551.84 L418.50,551.97 L420.50,552.11 L422.50,552.24 L424.50,552.36 L426.50,552.48 L428.50,552.60 L430.50,552.71 L432.50,552.81 L434.50,552.91 L436.50,553.00 L438.50,553.09 L440.50,553.17 L442.50,553.24 L444.50,553.31 L446.50,553.37 L448.50,553.42 L450.50,553.47 L452.50,553.50 L454.50,553.53 L456.50,553.55 L458.50,553.57 L460.50,553.57 L462.50,553.56 L464.50,553.55 L466.50,553.53 L468.50,553.49 L470.50,553.45 L472.50,553.40 L474.50,553.33 L476.50,553.26 L478.50,553.18 L480.50,553.08 L482.50,552.98 L484.50,552.86 L486.50,552.73 L488.50,552.59 L490.50,552.44 L492.50,552.28 L494.50,552.11 L496.50,551.93 L498.50,551.74 L500.50,551.54 L502.50,551.33 L504.50,551.11 L506.50,550.87 L508.50,550.63 L510.50,550.38 L512.50,550.12 L514.50,549.84 L516.50,549.56 L518.50,549.27 L520.50,548.97 L522.50,548.66 L524.50,548.34 L526.50,548.01 L528.50,547.67 L530.50,547.32 L532.50,546.96 L534.50,546.60 L536.50,546.22 L538.50,545.84 L540.50,545.44 L542.50,545.05 L544.50,544.65 L546.50,544.24 L548.50,543.83 L550.50,543.41 L552.50,542.99 L554.50,542.56 L556.50,542.13 L558.50,541.70 L560.50,541.26 L562.50,540.82 L564.50,540.36 L566.50,539.89 L568.50,539.41 L570.50,538.91 L572.50,538.40 L574.50,537.88 L576.50,537.34 L578.50,536.79 L580.50,536.23 L582.50,535.66 L584.50,535.07 L586.50,534.48 L588.50,533.87 L590.50,533.26 L592.50,532.64 L594.50,532.02 L596.50,531.39 L598.50,530.77 L600.50,530.14 L602.50,529.50 L604.50,528.84 L606.50,528.16 L608.50,527.48 L610.50,526.78 L612.50,526.08 L614.50,525.38 L616.50,524.66 L618.50,523.93 L620.50,523.18 L622.50,522.42 L624.50,521.67 L626.50,520.93 L628.50,520.22 L630.50,519.53 L632.50,518.90 L634.50,518.32 L636.50,517.75 L638.50,517.17 L640.50,516.57 L642.50,515.92 L644.50,515.20 L646.50,514.36 L648.50,513.38 L650.50,512.30 L652.50,511.15 L654.50,509.96 L656.50,508.77 L658.50,507.62 L660.50,506.54 L662.50,505.48 L664.50,504.42 L666.50,503.37 L668.50,502.34 L670.50,501.32 L672.50,500.32 L674.50,499.34 L676.50,498.39 L678.50,497.46 L680.50,496.56 L682.50,495.67 L684.50,494.80 L686.50,493.93 L688.50,493.07 L690.50,492.21 L692.50,491.34 L694.50,490.47 L696.50,489.59 L698.50,488.69 L700.50,487.77 L702.50,486.79 L704.50,485.79 L706.50,484.81 L708.50,483.91 L710.50,483.11 L712.50,482.40 L714.50,481.72 L716.50,481.07 L718.50,480.40 L720.50,479.70 L722.50,478.94 L724.50,478.16 L726.50,477.36 L728.50,476.53 L730.50,475.69 L732.50,474.82 L734.50,473.93 L736.50,473.02 L738.50,472.07 L740.50,471.04 L742.50,469.96 L744.50,468.86 L746.50,467.75 L748.50,466.67 L750.50,465.65 L752.50,464.68 L754.50,463.73 L756.50,462.81 L758.50,461.90 L760.50,461.03 L761.50,460.60" stroke="#1A6FDF"/>
<path d="M120.50,656.50 L122.50,653.71 L124.50,650.93 L126.50,648.18 L128.50,645.45 L130.50,642.74 L132.50,640.05 L134.50,637.38 L136.50,634.73 L138.50,632.10 L140.50,629.49 L142.50,626.89 L144.50,624.31 L146.50,621.75 L148.50,619.20 L150.50,616.67 L152.50,614.16 L154.50,611.66 L156.50,609.18 L158.50,606.70 L160.50,604.25 L162.50,601.80 L164.50,599.37 L166.50,596.95 L168.50,594.55 L170.50,592.15 L172.50,589.77 L174.50,587.40 L176.50,585.06 L178.50,582.74 L180.50,580.46 L182.50,578.22 L184.50,576.02 L186.50,573.88 L188.50,571.79 L190.50,569.77 L192.50,567.81 L194.50,565.92 L196.50,564.09 L198.50,562.33 L200.50,560.62 L202.50,558.98 L204.50,557.39 L206.50,555.86 L208.50,554.39 L210.50,552.96 L212.50,551.59 L214.50,550.27 L216.50,549.00 L218.50,547.78 L220.50,546.61 L222.50,545.48 L224.50,544.40 L226.50,543.37 L228.50,542.38 L230.50,541.44 L232.50,540.54 L234.50,539.68 L236.50,538.86 L238.50,538.09 L240.50,537.35 L242.50,536.65 L244.50,535.99 L246.50,535.37 L248.50,534.79 L250.50,534.24 L252.50,533.72 L254.50,533.25 L256.50,532.82 L258.50,532.44 L260.50,532.11 L262.50,531.83 L264.50,531.62 L266.50,531.46 L268.50,531.34 L270.50,531.28 L272.50,531.26 L274.50,531.27 L276.50,531.32 L278.50,531.40 L280.50,531.51 L282.50,531.65 L284.50,531.80 L286.50,531.97 L288.50,532.14 L290.50,532.33 L292.50,532.52 L294.50,532.72 L296.50,532.92 L298.50,533.13 L300.50,533.34 L302.50,533.55 L304.50,533.77 L306.50,533.99 L308.50,534.22 L310.50,534.45 L312.50,534.68 L314.50,534.91 L316.50,535.15 L318.50,535.39 L320.50,535.63 L322.50,535.87 L324.50,536.12 L326.50,536.37 L328.50,536.61 L330.50,536.86 L332.50,537.11 L334.50,537.37 L336.50,537.62 L338.50,537.87 L340.50,538.13 L342.50,538.38 L344.50,538.63 L346.50,538.89 L348.50,539.14 L350.50,539.39 L352.50,539.65 L354.50,539.90 L356.50,540.15 L358.50,540.40 L360.50,540.64 L362.50,540.89 L364.50,541.13 L366.50,541.37 L368.50,541.61 L370.50,541.85 L372.50,542.08 L374.50,542.31 L376.50,542.54 L378.50,542.77 L380.50,542.99 L382.50,543.20 L384.50,543.42 L386.50,543.63 L388.50,543.83 L390.50,544.03 L392.50,544.23 L394.50,544.42 L396.50,544.61 L398.50,544.79 L400.50,544.97 L402.50,545.14 L404.50,545.30 L406.50,545.46 L408.50,545.62 L410.50,545.76 L412.50,545.90 L414.50,546.04 L416.50,546.16 L418.50,546.28 L420.50,546.40 L422.50,546.50 L424.50,546.60 L426.50,546.69 L428.50,546.77 L430.50,546.84 L432.50,546.91 L434.50,546.97 L436.50,547.01 L438.50,547.05 L440.50,547.08 L442.50,547.10 L444.50,547.11 L446.50,547.11 L448.50,547.11 L450.50,547.09 L452.50,547.06 L454.50,547.02 L456.50,546.97 L458.50,546.91 L460.50,546.83 L462.50,546.75 L464.50,546.66 L466.50,546.55 L468.50,546.43 L470.50,546.30 L472.50,546.16 L474.50,546.00 L476.50,545.84 L478.50,545.66 L480.50,545.46 L482.50,545.26 L484.50,545.04 L486.50,544.81 L488.50,544.56 L490.50,544.30 L492.50,544.04 L494.50,543.75 L496.50,543.46 L498.50,543.15 L500.50,542.83 L502.50,542.50 L504.50,542.16 L506.50,541.81 L508.50,541.44 L510.50,541.07 L512.50,540.68 L514.50,540.28 L516.50,539.87 L518.50,539.45 L520.50,539.02 L522.50,538.57 L524.50,538.12 L526.50,537.66 L528.50,537.18 L530.50,536.70 L532.50,536.21 L534.50,535.70 L536.50,535.19 L538.50,534.66 L540.50,534.13 L542.50,533.60 L544.50,533.06 L546.50,532.52 L548.50,531.97 L550.50,531.41 L552.50,530.85 L554.50,530.28 L556.50,529.71 L558.50,529.13 L560.50,528.55 L562.50,527.96 L564.50,527.35 L566.50,526.73 L568.50,526.09 L570.50,525.43 L572.50,524.76 L574.50,524.08 L576.50,523.37 L578.50,522.66 L580.50,521.92 L582.50,521.17 L584.50,520.41 L586.50,519.64 L588.50,518.86 L590.50,518.07 L592.50,517.28 L594.50,516.48 L596.50,515.69 L598.50,514.89 L600.50,514.10 L602.50,513.31 L604.50,512.49 L606.50,511.67 L608.50,510.85 L610.50,510.02 L612.50,509.20 L614.50,508.40 L616.50,507.61 L618.50,506.83 L620.50,506.05 L622.50,505.28 L624.50,504.51 L626.50,503.75 L628.50,502.98 L630.50,502.21 L632.50,501.44 L634.50,500.68 L636.50,499.93 L638.50,499.17 L640.50,498.40 L642.50,497.61 L644.50,496.80 L646.50,495.97 L648.50,495.11 L650.50,494.22 L652.50,493.31 L654.50,492.41 L656.50,491.51 L658.50,490.64 L660.50,489.79 L662.50,488.98 L664.50,488.19 L666.50,487.42 L668.50,486.65 L670.50,485.86 L672.50,485.06 L674.50,484.22 L676.50,483.33 L678.50,482.42 L680.50,481.47 L682.50,480.50 L684.50,479.52 L686.50,478.53 L688.50,477.54 L690.50,476.55 L692.50,475.55 L694.50,474.51 L696.50,473.45 L698.50,472.40 L700.50,471.35 L702.50,470.32 L704.50,469.33 L706.50,468.39 L708.50,467.51 L710.50,466.69 L712.50,465.93 L714.50,465.21 L716.50,464.51 L718.50,463.83 L720.50,463.15 L722.50,462.47 L724.50,461.78 L726.50,461.06 L728.50,460.32 L730.50,459.58 L732.50,458.84 L734.50,458.11 L736.50,457.39 L738.50,456.70 L740.50,456.04 L742.50,455.41 L744.50,454.81 L746.50,454.23 L748.50,453.64 L750.50,453.03 L752.50,452.41 L754.50,451.77 L756.50,451.13 L758.50,450.48 L760.50,449.83 L761.50,449.50" stroke="#37AD6B"/>
<path d="M120.50,656.50 L122.50,653.75 L124.50,650.99 L126.50,648.23 L128.50,645.46 L130.50,642.68 L132.50,639.91 L134.50,637.13 L136.50,634.35 L138.50,631.58 L140.50,628.81 L142.50,626.04 L144.50,623.28 L146.50,620.53 L148.50,617.79 L150.50,615.05 L152.50,612.33 L154.50,609.63 L156.50,606.94 L158.50,604.26 L160.50,601.60 L162.50,598.97 L164.50,596.35 L166.50,593.75 L168.50,591.18 L170.50,588.64 L172.50,586.12 L174.50,583.62 L176.50,581.16 L178.50,578.73 L180.50,576.33 L182.50,573.97 L184.50,571.64 L186.50,569.34 L188.50,567.09 L190.50,564.87 L192.50,562.70 L194.50,560.56 L196.50,558.48 L198.50,556.43 L200.50,554.43 L202.50,552.49 L204.50,550.59 L206.50,548.74 L208.50,546.94 L210.50,545.20 L212.50,543.52 L214.50,541.88 L216.50,540.31 L218.50,538.79 L220.50,537.32 L222.50,535.91 L224.50,534.56 L226.50,533.26 L228.50,532.02 L230.50,530.83 L232.50,529.70 L234.50,528.62 L236.50,527.60 L238.50,526.64 L240.50,525.73 L242.50,524.88 L244.50,524.09 L246.50,523.35 L248.50,522.67 L250.50,522.04 L252.50,521.47 L254.50,520.96 L256.50,520.51 L258.50,520.11 L260.50,519.77 L262.50,519.49 L264.50,519.26 L266.50,519.09 L268.50,518.96 L270.50,518.88 L272.50,518.85 L274.50,518.85 L276.50,518.89 L278.50,518.96 L280.50,519.06 L282.50,519.19 L284.50,519.34 L286.50,519.51 L288.50,519.69 L290.50,519.89 L292.50,520.09 L294.50,520.31 L296.50,520.53 L298.50,520.76 L300.50,521.00 L302.50,521.25 L304.50,521.51 L306.50,521.77 L308.50,522.04 L310.50,522.32 L312.50,522.60 L314.50,522.89 L316.50,523.19 L318.50,523.49 L320.50,523.79 L322.50,524.10 L324.50,524.42 L326.50,524.74 L328.50,525.06 L330.50,525.39 L332.50,525.72 L334.50,526.05 L336.50,526.38 L338.50,526.72 L340.50,527.06 L342.50,527.40 L344.50,527.75 L346.50,528.09 L348.50,528.43 L350.50,528.78 L352.50,529.12 L354.50,529.47 L356.50,529.81 L358.50,530.16 L360.50,530.50 L362.50,530.84 L364.50,531.18 L366.50,531.52 L368.50,531.85 L370.50,532.19 L372.50,532.52 L374.50,532.84 L376.50,533.16 L378.50,533.48 L380.50,533.80 L382.50,534.11 L384.50,534.41 L386.50,534.71 L388.50,535.01 L390.50,535.30 L392.50,535.58 L394.50,535.85 L396.50,536.12 L398.50,536.39 L400.50,536.64 L402.50,536.89 L404.50,537.13 L406.50,537.36 L408.50,537.58 L410.50,537.80 L412.50,538.00 L414.50,538.20 L416.50,538.38 L418.50,538.56 L420.50,538.72 L422.50,538.87 L424.50,539.02 L426.50,539.15 L428.50,539.27 L430.50,539.38 L432.50,539.47 L434.50,539.55 L436.50,539.62 L438.50,539.68 L440.50,539.72 L442.50,539.75 L444.50,539.77 L446.50,539.77 L448.50,539.75 L450.50,539.72 L452.50,539.68 L454.50,539.62 L456.50,539.54 L458.50,539.45 L460.50,539.34 L462.50,539.21 L464.50,539.07 L466.50,538.90 L468.50,538.72 L470.50,538.53 L472.50,538.31 L474.50,538.07 L476.50,537.82 L478.50,537.55 L480.50,537.25 L482.50,536.94 L484.50,536.61 L486.50,536.25 L488.50,535.88 L490.50,535.49 L492.50,535.09 L494.50,534.66 L496.50,534.22 L498.50,533.76 L500.50,533.29 L502.50,532.80 L504.50,532.29 L506.50,531.77 L508.50,531.23 L510.50,530.68 L512.50,530.12 L514.50,529.54 L516.50,528.95 L518.50,528.35 L520.50,527.74 L522.50,527.11 L524.50,526.47 L526.50,525.82 L528.50,525.17 L530.50,524.50 L532.50,523.82 L534.50,523.13 L536.50,522.43 L538.50,521.73 L540.50,521.01 L542.50,520.29 L544.50,519.56 L546.50,518.82 L548.50,518.08 L550.50,517.34 L552.50,516.60 L554.50,515.86 L556.50,515.12 L558.50,514.38 L560.50,513.63 L562.50,512.89 L564.50,512.14 L566.50,511.40 L568.50,510.65 L570.50,509.90 L572.50,509.15 L574.50,508.40 L576.50,507.65 L578.50,506.90 L580.50,506.14 L582.50,505.38 L584.50,504.63 L586.50,503.87 L588.50,503.11 L590.50,502.35 L592.50,501.58 L594.50,500.82 L596.50,500.05 L598.50,499.28 L600.50,498.50 L602.50,497.69 L604.50,496.87 L606.50,496.05 L608.50,495.22 L610.50,494.39 L612.50,493.58 L614.50,492.79 L616.50,492.03 L618.50,491.28 L620.50,490.54 L622.50,489.81 L624.50,489.09 L626.50,488.36 L628.50,487.64 L630.50,486.92 L632.50,486.19 L634.50,485.46 L636.50,484.74 L638.50,484.01 L640.50,483.29 L642.50,482.58 L644.50,481.88 L646.50,481.18 L648.50,480.50 L650.50,479.83 L652.50,479.17 L654.50,478.50 L656.50,477.83 L658.50,477.13 L660.50,476.42 L662.50,475.68 L664.50,474.93 L666.50,474.16 L668.50,473.37 L670.50,472.58 L672.50,471.79 L674.50,470.99 L676.50,470.19 L678.50,469.40 L680.50,468.62 L682.50,467.84 L684.50,467.09 L686.50,466.35 L688.50,465.63 L690.50,464.92 L692.50,464.21 L694.50,463.51 L696.50,462.79 L698.50,462.06 L700.50,461.31 L702.50,460.55 L704.50,459.79 L706.50,459.00 L708.50,458.16 L710.50,457.26 L712.50,456.19 L714.50,454.98 L716.50,453.74 L718.50,452.58 L720.50,451.58 L722.50,450.87 L724.50,450.39 L726.50,450.02 L728.50,449.71 L730.50,449.42 L732.50,449.10 L734.50,448.71 L736.50,448.20 L738.50,447.48 L740.50,446.61 L742.50,445.66 L744.50,444.72 L746.50,443.86 L748.50,443.14 L750.50,442.45 L752.50,441.79 L754.50,441.15 L756.50,440.55 L758.50,439.98 L760.50,439.45 L761.50,439.20" stroke="#B177DE"/>
</g>
<g>
<line x1="165.9" y1="47.40" x2="226.9" y2="47.40" stroke="#515151" stroke-width="3"/>
<rect x="192.70" y="44.20" width="7" height="6.4" fill="#515151"/>
<line x1="165.9" y1="80.08" x2="226.9" y2="80.08" stroke="#F14040" stroke-width="3"/>
<circle cx="196.20" cy="80.08" r="3.6" fill="#F14040"/>
<line x1="165.9" y1="112.76" x2="226.9" y2="112.76" stroke="#1A6FDF" stroke-width="3"/>
<path d="M196.20,107.76 L200.70,115.76 L191.70,115.76Z" fill="#1A6FDF"/>
<line x1="165.9" y1="145.44" x2="226.9" y2="145.44" stroke="#37AD6B" stroke-width="3"/>
<path d="M196.20,151.64 L201.10,142.84 L191.30,142.84Z" fill="#37AD6B"/>
<line x1="165.9" y1="178.12" x2="226.9" y2="178.12" stroke="#B177DE" stroke-width="3"/>
<path d="M196.20,173.62 L200.10,178.52 L196.20,183.42 L192.30,178.52Z" fill="#B177DE"/>
</g>
<g font-family="'Liberation Serif', serif">
<text transform="matrix(0.38540,0,0,0.34030,53.231,28.260)" font-size="100" fill="#000" stroke="#fff" stroke-width="0.41">160</text>
<text transform="matrix(0.38540,0,0,0.34030,53.231,108.135)" font-size="100" fill="#000" stroke="#fff" stroke-width="0.41">120</text>
<text transform="matrix(0.37826,0,0,0.34030,73.187,187.669)" font-size="100" fill="#000" stroke="#fff" stroke-width="0.42">80</text>
<text transform="matrix(0.37447,0,0,0.34030,73.551,267.544)" font-size="100" fill="#000" stroke="#fff" stroke-width="0.42">40</text>
<text transform="matrix(0.40714,0,0,0.34030,90.971,347.419)" font-size="100" fill="#000" stroke="#fff" stroke-width="0.40">0</text>
<text transform="matrix(0.40000,0,0,0.33731,91.200,667.225)" font-size="100" fill="#000" stroke="#fff" stroke-width="0.41">0</text>
<text transform="matrix(0.42000,0,0,0.33731,91.120,596.225)" font-size="100" fill="#000" stroke="#fff" stroke-width="0.40">2</text>
<text transform="matrix(0.36522,0,0,0.33731,92.070,525.225)" font-size="100" fill="#000" stroke="#fff" stroke-width="0.43">4</text>
<text transform="matrix(0.39070,0,0,0.33731,91.237,454.225)" font-size="100" fill="#000" stroke="#fff" stroke-width="0.41">6</text>
<text transform="matrix(0.40000,0,0,0.33731,91.200,383.225)" font-size="100" fill="#000" stroke="#fff" stroke-width="0.41">8</text>
<text transform="matrix(0.38929,0,0,0.34179,113.343,689.116)" font-size="100" fill="#000" stroke="#fff" stroke-width="0.41">0</text>
<text transform="matrix(0.38435,0,0,0.33676,225.163,689.126)" font-size="100" fill="#000" stroke="#fff" stroke-width="0.42">0.1</text>
<text transform="matrix(0.39739,0,0,0.33676,353.010,688.790)" font-size="100" fill="#000" stroke="#fff" stroke-width="0.41">0.2</text>
<text transform="matrix(0.39145,0,0,0.33676,481.534,688.790)" font-size="100" fill="#000" stroke="#fff" stroke-width="0.41">0.3</text>
<text transform="matrix(0.39328,0,0,0.33676,609.827,688.790)" font-size="100" fill="#000" stroke="#fff" stroke-width="0.41">0.4</text>
<text transform="matrix(0.39145,0,0,0.33676,737.434,688.790)" font-size="100" fill="#000" stroke="#fff" stroke-width="0.41">0.5</text>
<text transform="matrix(0.42696,0,0,0.36716,397.011,727.866)" font-size="100" fill="#000" stroke="#fff" stroke-width="0.38">Strain</text>
<text transform="matrix(0.38043,0,0,0.35735,232.437,56.085)" font-size="100" fill="#000" stroke="#fff" stroke-width="0.41">S1</text>
<text transform="matrix(0.39462,0,0,0.36269,232.338,88.755)" font-size="100" fill="#000" stroke="#fff" stroke-width="0.40">S2</text>
<text transform="matrix(0.39053,0,0,0.36269,232.366,121.435)" font-size="100" fill="#000" stroke="#fff" stroke-width="0.40">S3</text>
<text transform="matrix(0.38660,0,0,0.36269,232.394,154.115)" font-size="100" fill="#000" stroke="#fff" stroke-width="0.40">S4</text>
<text transform="matrix(0.38526,0,0,0.36269,232.403,186.795)" font-size="100" fill="#000" stroke="#fff" stroke-width="0.40">S5</text>
<text transform="matrix(0.34231,0,0,0.37556,688.831,54.913)" font-size="100" fill="#000" stroke="#fff" stroke-width="0.42">(</text>
<text transform="matrix(0.42051,0,0,0.33542,701.918,54.065)" font-size="100" fill="#000" stroke="#fff" stroke-width="0.40">a</text>
<text transform="matrix(0.34231,0,0,0.37556,722.073,54.913)" font-size="100" fill="#000" stroke="#fff" stroke-width="0.42">)</text>
<text transform="matrix(0.35769,0,0,0.37111,683.469,382.607)" font-size="100" fill="#000" stroke="#fff" stroke-width="0.41">(</text>
<text transform="matrix(0.39783,0,0,0.33714,697.300,382.063)" font-size="100" fill="#000" stroke="#fff" stroke-width="0.41">b</text>
<text transform="matrix(0.36154,0,0,0.37111,718.015,382.607)" font-size="100" fill="#000" stroke="#fff" stroke-width="0.41">)</text>
<text transform="matrix(0.41115,0,0,0.33857,553.489,138.461)" font-size="100" fill="#000" stroke="#fff" stroke-width="0.40">harden</text>
<text transform="matrix(0.41169,0,0,0.32429,137.653,479.076)" font-size="100" fill="#000" stroke="#fff" stroke-width="0.41">elastic</text>
<text transform="matrix(0.41250,0,0,0.32333,375.575,461.010)" font-size="100" fill="#000" stroke="#fff" stroke-width="0.41">plastic</text>
<text transform="matrix(0,-0.42096,0.36418,0,27.772,193.484)" font-size="100" fill="#000" stroke="#fff" stroke-width="0.38">GPa</text>
<text transform="matrix(0,-0.37347,0.28846,0,28.212,245.720)" font-size="100" font-style="italic" fill="#000" stroke="#fff" stroke-width="1.51">σ</text>
<text transform="matrix(0,-0.27179,0.23261,0,33.400,224.328)" font-size="100" font-style="italic" fill="#000" stroke="#fff" stroke-width="1.78">z</text>
<line x1="3.6" y1="197.6" x2="35.6" y2="210.3" stroke="#000" stroke-width="1.6"/>
<text transform="matrix(0,-0.41916,0.35522,0,40.690,505.977)" font-size="100" fill="#000" stroke="#fff" stroke-width="0.39">GPa</text>
<path d="M27.05,573.3 L28.95,573.3 L28.95,584.4 C29.0,586.6 30.2,588.2 31.9,589.3 L31.5,590.0 C29.0,588.9 27.1,587.0 27.05,584.6 Z" fill="#000"/>
<path d="M28.6,580.4 C33,581.2 37,582.0 40.6,582.9 C42.4,583.4 42.3,585.5 40.5,585.2 C37,584.5 33,583.0 28.6,581.9 Z" fill="#000"/>
<text transform="matrix(0,-0.27692,0.21875,0,46.781,574.554)" font-size="100" fill="#000" stroke="#fff" stroke-width="0.61">max</text>
<line x1="17.1" y1="510.4" x2="49.1" y2="522.9" stroke="#000" stroke-width="1.6"/>
</g>
<g>
<line x1="607.60" y1="148.00" x2="607.60" y2="190.00" stroke="#000" stroke-width="2.8"/><path d="M607.60,211.20 L613.55,188.00 L601.65,188.00 Z" fill="#000"/>
<line x1="185.10" y1="493.30" x2="185.10" y2="538.00" stroke="#000" stroke-width="2.8"/><path d="M185.10,558.90 L190.50,536.00 L179.70,536.00 Z" fill="#000"/>
<line x1="421.70" y1="474.10" x2="422.38" y2="506.00" stroke="#000" stroke-width="2.8"/><path d="M422.90,526.80 L428.08,504.00 L416.68,504.00 Z" fill="#000"/>
</g>
</svg>
</body></html>
